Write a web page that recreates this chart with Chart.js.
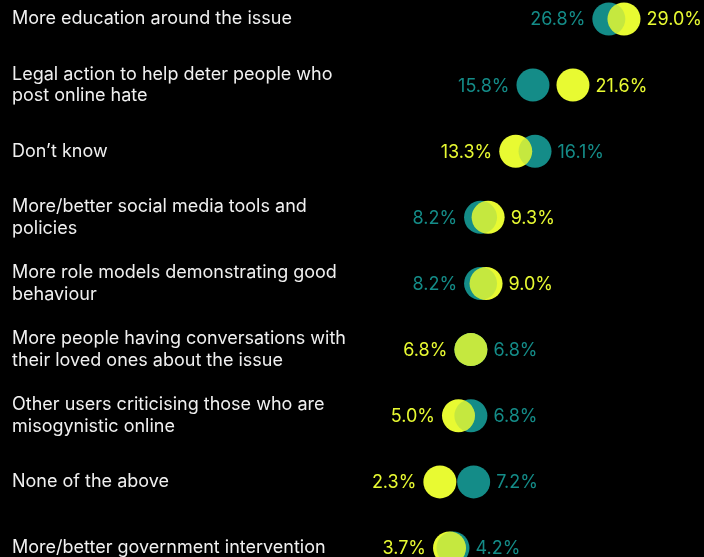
<!DOCTYPE html>
<html>
<head>
<meta charset="utf-8">
<script src="https://cdn.jsdelivr.net/npm/chart.js@4"></script>
<style>
  html, body { margin: 0; padding: 0; background: #000; }
  #wrap { width: 704px; height: 557px; }
</style>
</head>
<body>
<div id="wrap"><canvas id="myChart" width="704" height="557"></canvas></div>
<script>
/* global Chart */

let labels = [
  "More education around the issue",
  ["Legal action to help deter people who", "post online hate"],
  "Don\u2019t know",
  ["More/better social media tools and", "policies"],
  ["More role models demonstrating good", "behaviour"],
  ["More people having conversations with", "their loved ones about the issue"],
  ["Other users criticising those who are", "misogynistic online"],
  "None of the above",
  "More/better government intervention"
];
let tealValues = [26.8, 15.8, 16.1, 8.2, 8.2, 6.8, 6.8, 7.2, 4.2];
let limeValues = [29.0, 21.6, 13.3, 9.3, 9.0, 6.8, 5.0, 2.3, 3.7];

const TEAL = "rgb(20, 140, 136)";
const TEAL_TINT = "rgba(20, 140, 136, 0.16)";
const LIME = "rgb(232, 250, 50)";
const FONT = "Inter, 'Noto Sans', sans-serif";
const R = 16.5;

function toPoints(values) {
  return values.map(function (v, i) {
    return { x: v, y: i };
  });
}

// tint where the lime dot covers the teal one, then write the values:
// smaller on the left of its dot, larger on the right
const valueLabels = {
  id: "valueLabels",
  afterDatasetsDraw: function (chart) {
    const ctx = chart.ctx;
    const limeMeta = chart.getDatasetMeta(0);
    const tealMeta = chart.getDatasetMeta(1);
    ctx.save();
    for (let i = 0; i < labels.length; i++) {
      const lime = limeMeta.data[i];
      const teal = tealMeta.data[i];
      ctx.save();
      ctx.beginPath();
      ctx.arc(lime.x, lime.y, R, 0, Math.PI * 2);
      ctx.clip();
      ctx.beginPath();
      ctx.arc(teal.x, teal.y, R, 0, Math.PI * 2);
      ctx.fillStyle = TEAL_TINT;
      ctx.fill();
      ctx.restore();
    }
    ctx.font = "18px " + FONT;
    ctx.textBaseline = "middle";
    for (let i = 0; i < labels.length; i++) {
      const lime = limeMeta.data[i];
      const teal = tealMeta.data[i];
      let left, right, leftColor, rightColor, leftVal, rightVal;
      if (limeValues[i] <= tealValues[i]) {
        left = lime; right = teal;
        leftColor = LIME; rightColor = TEAL;
        leftVal = limeValues[i]; rightVal = tealValues[i];
      } else {
        left = teal; right = lime;
        leftColor = TEAL; rightColor = LIME;
        leftVal = tealValues[i]; rightVal = limeValues[i];
      }
      ctx.fillStyle = leftColor;
      ctx.textAlign = "right";
      ctx.fillText(leftVal.toFixed(1) + "%", left.x - R - 7, left.y + 1);
      ctx.fillStyle = rightColor;
      ctx.textAlign = "left";
      ctx.fillText(rightVal.toFixed(1) + "%", right.x + R + 6, right.y + 1);
    }
    ctx.restore();
  }
};

const ctx = document.getElementById("myChart");
const myChart = new Chart(ctx, {
  type: "scatter",
  data: {
    datasets: [
      {
        label: "Lime",
        data: toPoints(limeValues),
        backgroundColor: LIME,
        borderWidth: 0,
        pointRadius: R,
        pointHoverRadius: R,
        clip: false
      },
      {
        label: "Teal",
        data: toPoints(tealValues),
        backgroundColor: TEAL,
        borderWidth: 0,
        pointRadius: R,
        pointHoverRadius: R,
        clip: false
      }
    ]
  },
  options: {
    responsive: false,
    animation: false,
    events: [],
    layout: { autoPadding: false, padding: { left: 12, right: 0, top: 0, bottom: 0 } },
    plugins: {
      legend: { display: false },
      tooltip: { enabled: false }
    },
    scales: {
      x: {
        type: "linear",
        min: 0,
        max: 40.6,
        display: false
      },
      y: {
        type: "linear",
        reverse: true,
        min: -0.287,
        max: 8.136,
        grid: { display: false },
        border: { display: false },
        afterFit: function (scale) {
          scale.width = 412;
          scale.paddingTop = 0;
          scale.paddingBottom = 0;
        },
        afterBuildTicks: function (scale) {
          scale.ticks = labels.map(function (l, i) {
            return { value: i };
          });
        },
        ticks: {
          crossAlign: "far",
          color: "#f0f0f0",
          font: { family: FONT, size: 18, lineHeight: 1.22 },
          callback: function (value) {
            return labels[value];
          }
        }
      }
    }
  },
  plugins: [valueLabels]
});
</script>
</body>
</html>
